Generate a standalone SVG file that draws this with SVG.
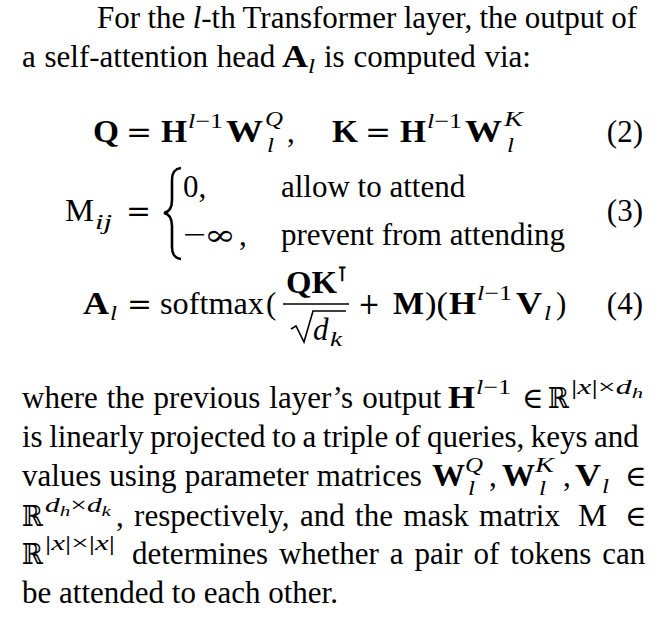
<svg xmlns="http://www.w3.org/2000/svg" width="664" height="618" viewBox="0 0 664 618">
<style>
text{font-family:'Liberation Serif','Times New Roman',serif;font-size:31px;fill:#000}
.b{font-weight:bold}
.i{font-style:italic}
.s{font-size:21px}
.ss{font-size:15px}
.y{font-family:'DejaVu Serif',serif;font-size:29px}
.n{text-anchor:end}
.ln{stroke:#000;fill:none;stroke-width:1.6}
</style>
<rect width="664" height="618" fill="#fff"/>
<g id="intro">
<text x="97" y="28" word-spacing="-0.4">For the <tspan class="i">l</tspan>-th Transformer layer, the output of</text>
<text x="22" y="67" word-spacing="1">a self-attention head</text>
<text x="282" y="67" class="b" textLength="26" lengthAdjust="spacingAndGlyphs">A</text>
<text x="308" y="73" class="s i" textLength="7" lengthAdjust="spacingAndGlyphs">l</text>
<text x="324" y="67" word-spacing="1">is computed via:</text>
</g>
<g id="eq2">
<text x="93" y="142" class="b" textLength="26" lengthAdjust="spacingAndGlyphs">Q</text>
<text x="126" y="142" class="y" textLength="26" lengthAdjust="spacingAndGlyphs">=</text>
<text x="161" y="142" class="b" textLength="26" lengthAdjust="spacingAndGlyphs">H</text>
<text x="188" y="128" class="s" textLength="35" lengthAdjust="spacingAndGlyphs"><tspan class="i">l</tspan>−1</text>
<text x="226" y="142" class="b" textLength="37" lengthAdjust="spacingAndGlyphs">W</text>
<text x="265" y="126" class="s i" textLength="18" lengthAdjust="spacingAndGlyphs">Q</text>
<text x="267" y="152" class="s i" textLength="7" lengthAdjust="spacingAndGlyphs">l</text>
<text x="287" y="142">,</text>
<text x="332" y="142" class="b" textLength="26" lengthAdjust="spacingAndGlyphs">K</text>
<text x="365" y="142" class="y" textLength="26" lengthAdjust="spacingAndGlyphs">=</text>
<text x="400" y="142" class="b" textLength="26" lengthAdjust="spacingAndGlyphs">H</text>
<text x="427" y="128" class="s" textLength="35" lengthAdjust="spacingAndGlyphs"><tspan class="i">l</tspan>−1</text>
<text x="465" y="142" class="b" textLength="37" lengthAdjust="spacingAndGlyphs">W</text>
<text x="504" y="126" class="s i" textLength="19" lengthAdjust="spacingAndGlyphs">K</text>
<text x="507" y="152" class="s i" textLength="7" lengthAdjust="spacingAndGlyphs">l</text>
<text x="643" y="142" class="n">(2)</text>
</g>
<g id="eq3">
<text x="65" y="221" textLength="29" lengthAdjust="spacingAndGlyphs">M</text>
<text x="95" y="229" class="s i" textLength="17" lengthAdjust="spacingAndGlyphs">ij</text>
<text x="126" y="221" class="y" textLength="25" lengthAdjust="spacingAndGlyphs">=</text>
<path class="ln" style="stroke-width:2.6" d="M181,168 C174,169 172,173 172,180 L172,200 C172,208 169,212 164,213 C169,214 172,218 172,226 L172,247 C172,254 174,258 181,259"/>
<text x="183" y="197">0,</text>
<text x="281" y="197">allow to attend</text>
<text x="183" y="245" textLength="23" lengthAdjust="spacingAndGlyphs">−</text>
<text x="204" y="245" class="y" textLength="32" lengthAdjust="spacingAndGlyphs">∞</text>
<text x="239" y="245">,</text>
<text x="281" y="245">prevent from attending</text>
<text x="643" y="221" class="n">(3)</text>
</g>
<g id="eq4">
<text x="83" y="314" class="b" textLength="26" lengthAdjust="spacingAndGlyphs">A</text>
<text x="110" y="320" class="s i" textLength="7" lengthAdjust="spacingAndGlyphs">l</text>
<text x="127" y="314" class="y" textLength="25" lengthAdjust="spacingAndGlyphs">=</text>
<text x="160" y="314" textLength="104" lengthAdjust="spacingAndGlyphs">softmax</text>
<text x="266" y="314">(</text>
<text x="286" y="293" class="b" textLength="51" lengthAdjust="spacingAndGlyphs">QK</text>
<text x="337" y="281" class="y b" style="font-size:20px">⊺</text>
<line class="ln" x1="283" y1="304" x2="349" y2="304"/>
<path class="ln" d="M291,329 L296,326 L304,342 L313,311 L346,311"/>
<text x="313" y="340" class="i">d</text>
<text x="330" y="346" class="s i" textLength="12" lengthAdjust="spacingAndGlyphs">k</text>
<text x="358" y="314" class="y" textLength="22" lengthAdjust="spacingAndGlyphs">+</text>
<text x="393" y="314" class="b" textLength="31" lengthAdjust="spacingAndGlyphs">M</text>
<text x="425" y="314" textLength="23" lengthAdjust="spacingAndGlyphs">)(</text>
<text x="449" y="314" class="b" textLength="27" lengthAdjust="spacingAndGlyphs">H</text>
<text x="477" y="300" class="s" textLength="35" lengthAdjust="spacingAndGlyphs"><tspan class="i">l</tspan>−1</text>
<text x="516" y="314" class="b" textLength="26" lengthAdjust="spacingAndGlyphs">V</text>
<text x="544" y="320" class="s i" textLength="7" lengthAdjust="spacingAndGlyphs">l</text>
<text x="556" y="314">)</text>
<text x="643" y="314" class="n">(4)</text>
</g>
<g id="para">
<text x="22" y="408" word-spacing="1.25">where the previous layer’s output</text>
<text x="448" y="408" class="b" textLength="27" lengthAdjust="spacingAndGlyphs">H</text>
<text x="476" y="394" class="s" textLength="35" lengthAdjust="spacingAndGlyphs"><tspan class="i">l</tspan>−1</text>
<text x="522" y="408" class="y">∈</text>
<text x="548" y="408" class="y" textLength="21" lengthAdjust="spacingAndGlyphs">ℝ</text>
<text x="571" y="394" class="s" textLength="72" lengthAdjust="spacingAndGlyphs">|<tspan class="i">x</tspan>|×<tspan class="i">d</tspan><tspan class="ss i" dy="4">h</tspan></text>
<text x="22" y="447" word-spacing="-1.3">is linearly projected to a triple of queries, keys and</text>
<text x="22" y="486" word-spacing="0.4">values using parameter matrices</text>
<text x="432" y="486" class="b" textLength="33" lengthAdjust="spacingAndGlyphs">W</text>
<text x="465" y="472" class="s i" textLength="18" lengthAdjust="spacingAndGlyphs">Q</text>
<text x="468" y="495" class="s i" textLength="7" lengthAdjust="spacingAndGlyphs">l</text>
<text x="489" y="486">,</text>
<text x="502" y="486" class="b" textLength="33" lengthAdjust="spacingAndGlyphs">W</text>
<text x="535" y="472" class="s i" textLength="19" lengthAdjust="spacingAndGlyphs">K</text>
<text x="539" y="495" class="s i" textLength="7" lengthAdjust="spacingAndGlyphs">l</text>
<text x="563" y="486">,</text>
<text x="575" y="486" class="b" textLength="26" lengthAdjust="spacingAndGlyphs">V</text>
<text x="602" y="493" class="s i" textLength="7" lengthAdjust="spacingAndGlyphs">l</text>
<text x="625" y="486" class="y">∈</text>
<text x="22" y="526" class="y" textLength="21" lengthAdjust="spacingAndGlyphs">ℝ</text>
<text x="45" y="512" class="s" textLength="66" lengthAdjust="spacingAndGlyphs"><tspan class="i">d</tspan><tspan class="ss i" dy="4">h</tspan><tspan dy="-4">×</tspan><tspan class="i">d</tspan><tspan class="ss i" dy="4">k</tspan></text>
<text x="116" y="526" word-spacing="2.6">, respectively, and the mask matrix</text>
<text x="578" y="526" textLength="29" lengthAdjust="spacingAndGlyphs">M</text>
<text x="625" y="526" class="y">∈</text>
<text x="22" y="564" class="y" textLength="21" lengthAdjust="spacingAndGlyphs">ℝ</text>
<text x="45" y="550" class="s" textLength="70" lengthAdjust="spacingAndGlyphs">|<tspan class="i">x</tspan>|×|<tspan class="i">x</tspan>|</text>
<text x="132" y="564" word-spacing="3.2">determines whether a pair of tokens can</text>
<text x="22" y="603">be attended to each other.</text>
</g>
</svg>
